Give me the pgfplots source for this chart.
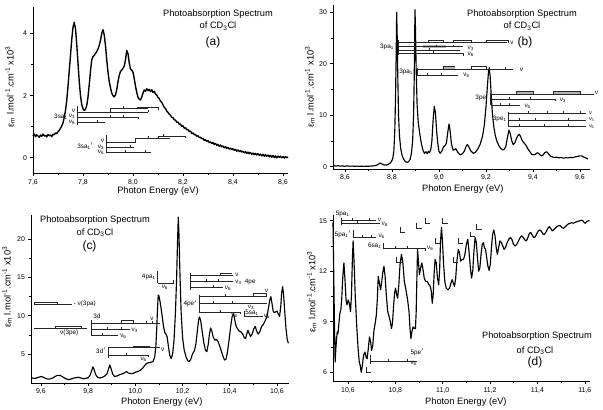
\documentclass[border=0pt]{standalone}
\usepackage{pgfplots}
\usepackage{pgfplotstable}
\pgfplotsset{compat=1.18}
\usepackage{fontspec}
\setmainfont{Liberation Sans}

% ---------------- spectra (photon energy in eV, epsilon in 10^3 l/mol/cm)
\pgfplotstableread{
E eps
7.600 0.70
7.605 0.76
7.610 0.68
7.615 0.74
7.620 0.70
7.625 0.66
7.630 0.73
7.635 0.69
7.640 0.76
7.645 0.70
7.650 0.72
7.655 0.67
7.660 0.75
7.665 0.71
7.670 0.73
7.675 0.68
7.680 0.76
7.685 0.74
7.690 0.80
7.695 0.78
7.700 0.84
7.705 0.88
7.710 0.95
7.715 1.02
7.720 1.12
7.725 1.30
7.730 1.52
7.735 1.85
7.740 2.30
7.745 2.80
7.750 3.30
7.755 3.80
7.760 4.20
7.765 4.36
7.770 4.15
7.775 3.65
7.780 3.05
7.785 2.45
7.790 2.00
7.795 1.70
7.800 1.58
7.805 1.52
7.810 1.56
7.815 1.68
7.820 1.95
7.825 2.35
7.830 2.80
7.835 3.15
7.840 3.25
7.845 3.30
7.850 3.35
7.855 3.42
7.860 3.50
7.865 3.62
7.870 3.78
7.875 4.00
7.880 4.12
7.885 3.95
7.890 3.60
7.895 3.15
7.900 2.75
7.905 2.45
7.910 2.25
7.915 2.08
7.920 2.00
7.925 1.96
7.930 2.02
7.935 2.20
7.940 2.45
7.945 2.65
7.950 2.78
7.955 2.82
7.960 2.88
7.965 2.95
7.970 3.15
7.975 3.45
7.980 3.35
7.985 3.05
7.990 2.85
7.995 2.82
8.000 2.75
8.005 2.55
8.010 2.30
8.015 2.10
8.020 1.95
8.025 1.88
8.030 1.86
8.035 1.95
8.040 2.08
8.045 2.18
8.050 2.14
8.055 2.22
8.060 2.16
8.065 2.20
8.070 2.13
8.075 2.19
8.080 2.10
8.085 2.14
8.090 2.05
8.095 2.02
8.100 1.94
8.105 1.90
8.110 1.82
8.115 1.78
8.120 1.70
8.125 1.62
8.130 1.58
8.135 1.50
8.140 1.46
8.145 1.40
8.150 1.37
8.155 1.30
8.160 1.29
8.165 1.22
8.170 1.21
8.175 1.14
8.180 1.15
8.185 1.08
8.190 1.08
8.195 1.01
8.200 1.03
8.205 0.95
8.210 0.97
8.215 0.90
8.220 0.91
8.225 0.84
8.230 0.86
8.235 0.78
8.240 0.80
8.245 0.74
8.250 0.75
8.255 0.69
8.260 0.71
8.265 0.65
8.270 0.66
8.275 0.61
8.280 0.62
8.285 0.56
8.290 0.58
8.295 0.53
8.300 0.55
8.305 0.49
8.310 0.51
8.315 0.46
8.320 0.49
8.325 0.43
8.330 0.46
8.335 0.40
8.340 0.43
8.345 0.37
8.350 0.41
8.355 0.35
8.360 0.38
8.365 0.32
8.370 0.36
8.375 0.30
8.380 0.33
8.385 0.28
8.390 0.31
8.395 0.26
8.400 0.29
8.405 0.24
8.410 0.27
8.415 0.21
8.420 0.25
8.425 0.20
8.430 0.23
8.435 0.18
8.440 0.21
8.445 0.16
8.450 0.20
8.455 0.14
8.460 0.18
8.465 0.13
8.470 0.17
8.475 0.11
8.480 0.15
8.485 0.10
8.490 0.14
8.495 0.09
8.500 0.13
8.505 0.08
8.510 0.12
8.515 0.06
8.520 0.11
8.525 0.05
8.530 0.10
8.535 0.04
8.540 0.09
8.545 0.03
8.550 0.08
8.555 0.02
8.560 0.07
8.565 0.01
8.570 0.06
8.575 0.00
8.580 0.05
8.585 0.01
8.590 0.05
8.595 0.00
8.600 0.04
8.605 -0.01
8.610 0.04
8.615 0.00
8.620 0.03
}\specA

\pgfplotstableread{
E eps
8.550 0.20
8.560 0.12
8.570 0.18
8.580 0.10
8.590 0.15
8.600 0.08
8.610 0.14
8.620 0.09
8.630 0.12
8.640 0.07
8.650 0.11
8.660 0.06
8.670 0.10
8.680 0.05
8.690 0.09
8.700 0.08
8.710 0.12
8.720 0.15
8.730 0.22
8.740 0.40
8.748 0.70
8.755 0.60
8.765 0.35
8.775 0.30
8.785 0.45
8.795 0.80
8.803 1.5
8.808 3.0
8.812 7.0
8.815 13.0
8.818 22.0
8.820 30.0
8.822 26.0
8.825 17.0
8.828 10.0
8.832 6.0
8.837 3.6
8.843 2.2
8.850 1.4
8.857 1.0
8.863 0.85
8.870 0.95
8.877 1.4
8.883 2.6
8.888 5.0
8.892 10.0
8.895 18.0
8.898 30.5
8.900 27.0
8.903 19.0
8.907 12.0
8.912 8.5
8.918 6.5
8.925 4.5
8.932 3.2
8.938 2.6
8.945 2.9
8.950 2.5
8.955 3.0
8.960 2.7
8.965 3.3
8.970 5.0
8.975 9.0
8.980 11.7
8.985 10.5
8.990 7.0
8.995 4.5
9.000 3.0
9.005 2.6
9.012 3.0
9.020 3.9
9.026 4.1
9.032 4.6
9.037 6.5
9.043 8.3
9.048 6.8
9.053 4.5
9.060 3.2
9.066 3.3
9.072 3.5
9.080 2.8
9.090 2.3
9.100 2.5
9.108 3.0
9.115 3.9
9.121 4.3
9.127 3.9
9.135 3.1
9.146 2.6
9.155 2.8
9.165 3.4
9.175 4.3
9.185 5.8
9.193 8.0
9.200 11.5
9.206 15.5
9.211 18.5
9.214 19.2
9.218 17.5
9.223 13.5
9.228 10.0
9.234 7.6
9.240 6.0
9.247 4.9
9.255 4.1
9.262 3.6
9.270 3.3
9.277 3.3
9.285 4.0
9.292 5.8
9.298 7.1
9.303 6.5
9.310 5.0
9.316 4.3
9.323 4.6
9.330 5.5
9.337 6.1
9.342 6.3
9.348 5.8
9.355 5.0
9.362 4.6
9.370 4.2
9.378 3.5
9.387 2.9
9.395 2.4
9.402 2.3
9.410 2.4
9.418 2.7
9.424 2.6
9.430 2.3
9.437 2.1
9.444 2.3
9.450 2.7
9.458 2.9
9.465 2.6
9.473 2.1
9.482 1.9
9.490 1.8
9.500 1.85
9.510 1.7
9.520 1.8
9.530 1.65
9.540 1.75
9.550 1.7
9.560 1.8
9.570 1.75
9.580 1.9
9.590 2.0
9.600 2.1
9.607 2.1
9.615 1.9
9.625 1.7
9.635 1.5
}\specB

\pgfplotstableread{
E eps
9.558 1.75
9.565 1.85
9.575 1.80
9.585 1.90
9.595 2.00
9.602 2.05
9.610 1.95
9.620 1.80
9.630 1.70
9.640 1.75
9.650 1.85
9.660 2.05
9.670 2.20
9.680 2.20
9.690 2.05
9.700 1.85
9.710 1.70
9.720 1.65
9.730 1.75
9.740 1.85
9.750 1.90
9.760 1.95
9.770 1.85
9.780 1.75
9.790 1.80
9.800 1.90
9.808 2.20
9.815 2.80
9.820 3.30
9.825 3.00
9.832 2.30
9.840 1.95
9.850 1.85
9.860 1.95
9.870 2.10
9.880 2.40
9.886 3.00
9.892 3.55
9.898 3.00
9.905 2.30
9.913 2.05
9.925 2.15
9.935 2.30
9.945 2.40
9.955 2.55
9.963 2.70
9.970 2.50
9.980 2.45
9.991 2.45
10.000 2.60
10.010 2.70
10.020 2.85
10.030 3.10
10.040 3.50
10.047 3.75
10.055 3.85
10.065 3.90
10.075 4.00
10.082 4.60
10.087 6.00
10.091 8.50
10.094 11.0
10.097 12.7
10.100 12.6
10.105 11.8
10.110 10.8
10.115 9.6
10.120 8.5
10.125 7.8
10.130 7.6
10.135 7.2
10.140 6.0
10.146 4.8
10.152 4.4
10.158 5.0
10.164 6.8
10.170 10.5
10.175 15.0
10.179 20.0
10.182 22.9
10.185 20.5
10.189 15.5
10.194 10.5
10.200 7.2
10.207 5.5
10.215 4.6
10.222 4.1
10.228 4.0
10.235 4.3
10.242 5.0
10.250 5.4
10.256 6.2
10.262 7.8
10.267 9.2
10.271 9.85
10.276 9.5
10.282 8.2
10.290 6.5
10.297 5.5
10.303 5.3
10.309 6.3
10.314 7.6
10.319 8.4
10.324 8.0
10.330 7.2
10.337 6.8
10.344 6.9
10.351 6.6
10.360 5.8
10.370 4.8
10.378 4.2
10.384 4.3
10.390 5.2
10.397 6.8
10.404 8.6
10.410 9.9
10.416 10.3
10.421 9.5
10.427 8.6
10.433 8.3
10.440 8.0
10.447 7.9
10.455 7.6
10.462 7.1
10.467 7.0
10.472 7.6
10.477 8.1
10.482 7.7
10.488 7.3
10.495 7.6
10.502 8.3
10.508 8.6
10.514 8.0
10.520 7.6
10.527 7.9
10.535 8.6
10.543 8.9
10.551 9.4
10.558 10.0
10.564 11.0
10.569 12.0
10.574 12.5
10.579 11.6
10.584 10.6
10.588 10.4
10.594 10.5
10.600 10.6
10.606 10.2
10.611 9.9
10.616 11.2
10.620 13.0
10.624 13.8
10.628 12.8
10.633 10.5
10.638 8.4
10.643 7.0
10.648 6.4
}\specC

\pgfplotstableread{
E eps
10.537 14.9
10.540 12.0
10.543 9.0
10.546 6.6
10.549 7.4
10.552 8.0
10.555 8.4
10.558 8.3
10.562 8.9
10.566 9.5
10.570 9.7
10.574 10.4
10.578 11.6
10.583 12.5
10.588 11.4
10.592 10.3
10.596 10.0
10.601 10.3
10.606 10.1
10.611 9.6
10.615 10.6
10.619 12.8
10.622 13.8
10.626 12.5
10.631 10.5
10.637 8.8
10.643 7.4
10.648 6.6
10.652 6.4
10.656 6.0
10.660 6.3
10.666 7.0
10.672 7.2
10.677 6.9
10.681 6.8
10.686 7.4
10.691 8.1
10.696 7.8
10.700 7.3
10.705 7.6
10.710 8.5
10.715 8.9
10.720 9.4
10.724 10.3
10.728 11.7
10.733 11.3
10.738 10.9
10.742 11.3
10.747 11.9
10.752 12.3
10.757 11.7
10.762 10.6
10.768 9.6
10.774 9.3
10.779 9.0
10.784 8.6
10.788 8.9
10.793 10.0
10.797 10.7
10.801 11.0
10.806 10.6
10.810 10.4
10.815 11.2
10.820 12.4
10.826 13.0
10.832 12.5
10.838 11.4
10.845 10.9
10.852 10.3
10.858 9.6
10.862 8.6
10.866 8.0
10.870 8.4
10.875 8.7
10.880 8.6
10.885 8.6
10.888 9.5
10.891 11.5
10.894 13.3
10.898 12.5
10.902 11.8
10.907 12.2
10.912 12.5
10.917 12.1
10.922 11.6
10.928 11.4
10.935 11.4
10.942 11.2
10.948 11.1
10.952 10.8
10.956 10.1
10.960 10.6
10.964 11.9
10.968 12.7
10.973 12.5
10.978 11.6
10.983 11.2
10.987 12.0
10.991 13.8
10.995 14.6
10.999 13.8
11.004 12.4
11.009 11.4
11.015 11.0
11.022 10.9
11.029 11.0
11.035 11.3
11.040 11.5
11.045 11.3
11.050 11.1
11.055 11.6
11.060 12.6
11.066 13.3
11.071 13.1
11.076 12.6
11.082 12.7
11.088 12.7
11.094 13.0
11.100 13.6
11.106 13.9
11.111 13.2
11.117 12.2
11.122 11.6
11.127 12.0
11.132 13.2
11.137 14.0
11.142 13.7
11.147 12.8
11.152 12.0
11.157 12.2
11.162 13.0
11.167 13.6
11.172 13.7
11.176 13.4
11.181 13.3
11.186 12.8
11.191 12.3
11.196 12.05
11.201 12.4
11.206 13.4
11.211 14.2
11.216 14.45
11.221 14.1
11.226 13.4
11.231 13.0
11.236 13.4
11.242 13.8
11.248 13.7
11.254 13.5
11.259 13.3
11.265 13.4
11.272 13.7
11.279 13.9
11.286 14.0
11.292 13.9
11.299 13.6
11.306 13.5
11.313 13.6
11.320 13.8
11.327 14.0
11.334 14.1
11.341 14.0
11.347 13.85
11.353 13.8
11.360 14.0
11.366 14.25
11.372 14.3
11.378 14.15
11.384 14.0
11.391 14.05
11.398 14.25
11.404 14.4
11.411 14.45
11.418 14.35
11.424 14.2
11.430 14.2
11.437 14.35
11.444 14.55
11.450 14.65
11.456 14.55
11.462 14.4
11.468 14.45
11.475 14.55
11.482 14.65
11.489 14.7
11.496 14.72
11.503 14.6
11.510 14.55
11.518 14.65
11.525 14.75
11.532 14.82
11.538 14.85
11.545 14.88
11.552 14.85
11.559 14.9
11.566 14.94
11.573 14.97
11.580 15.0
11.587 15.04
11.593 14.98
11.598 14.88
11.602 14.85
11.608 14.95
11.615 15.0
11.620 14.98
}\specD

\pgfplotsset{
  spec/.style={
    scale only axis, anchor=south west, clip=false,
    axis x line*=bottom, axis y line*=left,
    axis line style={line width=0.7pt},
    tick align=outside,
    major tick length=2.6pt, minor tick length=1.6pt,
    minor x tick num=1, minor y tick num=1,
    every tick/.style={black, line width=0.55pt},
    tick label style={font=\fontsize{7}{8}\selectfont},
    label style={font=\fontsize{9.3}{11}\selectfont},
    /pgf/number format/assume math mode=true,
    xticklabel={\pgfmathprintnumber[fixed,fixed zerofill,precision=1,use comma]{\tick}},
    xlabel={Photon Energy (eV)},
    ylabel={ε\textsubscript{m} l.mol\textsuperscript{-1}.cm\textsuperscript{-1} x10\textsuperscript{3}},
  },
  curve/.style={black, line width=1.15pt, line join=round, no markers},
}
\tikzset{
  lad/.style={black!85, line width=0.45pt},
  lbl/.style={font=\fontsize{6.4}{7}\selectfont, inner sep=0.8pt},
  lbls/.style={font=\fontsize{5.4}{6}\selectfont, inner sep=0pt},
}
% small tick on a progression ladder
\newcommand\tk[2]{\draw[lad] (#1,#2) -- ++(0pt,2.2pt);}
\newcommand\tkd[2]{\draw[lad] (#1,#2) -- ++(0pt,-2.2pt);}
% corner mark used in panel (d)
\newcommand\corner[2]{\draw[lad] (#1,#2) -- ++(0pt,-5pt) -- ++(5pt,0pt);}

\newcommand\titlefont{\fontsize{9.3}{11}\selectfont}

\begin{document}
\begin{tikzpicture}
\useasboundingbox (0bp,0bp) rectangle (603bp,410bp);

% ---------------- (a)
\begin{axis}[spec, at={(33bp,236.7bp)}, width=255bp, height=166.6bp,
  xmin=7.6, xmax=8.62, ymin=-0.5, ymax=4.86,
  xtick={7.6,7.8,8.0,8.2,8.4,8.6}, ytick={0,2,4},
  ylabel style={at={(axis description cs:-0.09,0.52)}, anchor=center},
  xlabel style={at={(axis description cs:0.49,0)}, anchor=center, yshift=-18bp}]
\addplot[curve, line width=1.4pt] table[x=E,y=eps] {\specA};
% 3sa1 ladders
\draw[lad] (7.775,1.05) -- (7.775,1.66);
\draw[lad] (7.775,1.48) -- (8.06,1.48);
\draw[lad] (7.908,1.48) -- (7.908,1.59) -- (8.06,1.59);
\draw[lad] (8.015,1.59) -- (8.015,1.64) -- (8.10,1.64) -- (8.10,1.55);
\tk{7.96}{1.59} \tk{8.06}{1.48}
\draw[lad] (7.775,1.32) -- (8.021,1.32); \tk{7.91}{1.32} \tk{7.96}{1.32} \tkd{8.021}{1.32}
\draw[lad] (7.775,1.13) -- (7.888,1.13); \tk{7.855}{1.13}
\node[lbl,anchor=east] at (7.772,1.50) {ν};
\node[lbl,anchor=east] at (7.772,1.32) {ν\textsubscript{3}};
\node[lbl,anchor=east] at (7.772,1.13) {ν\textsubscript{6}};
\node[lbl,anchor=east] at (7.742,1.31) {3sa\textsubscript{1}};
% 3sa1' ladders
\draw[lad] (7.892,0.15) -- (7.892,0.73);
\draw[lad] (7.892,0.51) -- (8.008,0.51) -- (8.008,0.62) -- (8.149,0.62);
\draw[lad] (8.10,0.62) -- (8.10,0.70) -- (8.208,0.70) -- (8.208,0.62);
\tk{8.06}{0.62} \tk{8.12}{0.70}
\draw[lad] (7.892,0.35) -- (8.004,0.35); \tk{7.99}{0.35}
\draw[lad] (7.892,0.17) -- (8.072,0.17); \tk{7.968}{0.17} \tk{8.05}{0.17}
\node[lbl,anchor=east] at (7.888,0.53) {ν};
\node[lbl,anchor=east] at (7.888,0.35) {ν\textsubscript{3}};
\node[lbl,anchor=east] at (7.888,0.17) {ν\textsubscript{6}};
\node[lbl,anchor=east] at (7.845,0.37) {3sa\textsubscript{1}$'$};
\end{axis}

% ---------------- (b)
\begin{axis}[spec, at={(333bp,241bp)}, width=257bp, height=164bp,
  xmin=8.549, xmax=9.643, ymin=-0.45, ymax=31.4,
  xtick={8.6,8.8,9.0,9.2,9.4,9.6}, ytick={0,10,20,30},
  ylabel style={at={(axis description cs:-0.09,0.5)}, anchor=center},
  xlabel style={at={(axis description cs:0.505,0)}, anchor=center, yshift=-20bp}]
\addplot[curve] table[x=E,y=eps] {\specB};
% 3pa1
\draw[lad] (8.827,21.7) -- (8.827,24.6);
\draw[lad] (8.827,24.1) -- (9.288,24.1);
\draw[lad] (8.955,24.1) -- (8.955,24.6) -- (9.018,24.6) -- (9.018,24.1);
\draw[lad] (9.061,24.1) -- (9.061,24.6) -- (9.139,24.6) -- (9.139,24.1);
\draw[lad] (9.203,24.1) -- (9.203,24.6) -- (9.295,24.6) -- (9.295,24.1);
\fill[gray!60] (8.93,23.05) rectangle (9.03,23.55);
\draw[lad] (8.827,23.3) -- (9.104,23.3); \tk{8.99}{23.3} \tk{9.06}{23.3}
\draw[lad] (8.827,22.7) -- (9.09,22.7); \tk{8.96}{22.7}
\draw[lad] (8.827,22.0) -- (9.104,22.0); \tk{8.975}{22.0} \tkd{9.104}{22.0}
\node[lbl,anchor=west] at (9.300,24.1) {ν};
\node[lbl,anchor=west] at (9.118,23.0) {ν\textsubscript{3}};
\node[lbl,anchor=west] at (9.118,21.9) {ν\textsubscript{6}};
\node[lbl,anchor=east] at (8.812,23.3) {3pa\textsubscript{1}};
% 3pa1'
\draw[lad] (8.908,17.6) -- (8.908,19.2);
\draw[lad] (8.908,18.9) -- (9.316,18.9); \tk{9.28}{18.9}
\fill[gray!60] (9.018,18.9) rectangle (9.068,19.6);
\draw[lad] (9.018,18.9) -- (9.018,19.6) -- (9.068,19.6);
\draw[lad] (9.139,18.9) -- (9.139,19.6) -- (9.203,19.6) -- (9.203,18.9);
\draw[lad] (8.908,17.8) -- (9.082,17.8); \tk{8.95}{17.8} \tk{9.01}{17.8}
\node[lbl,anchor=west] at (9.340,18.9) {ν};
\node[lbl,anchor=west] at (9.100,17.7) {ν\textsubscript{6}};
\node[lbl,anchor=east] at (8.905,18.4) {3pa\textsubscript{1}$'$};
% 3pe
\draw[lad] (9.22,11.9) -- (9.22,14.4);
\draw[lad] (9.22,14.1) -- (9.66,14.1);
\fill[gray!60] (9.33,14.1) rectangle (9.40,14.7);
\draw[lad] (9.33,14.1) -- (9.33,14.7) -- (9.40,14.7) -- (9.40,14.1);
\fill[gray!60] (9.487,14.1) rectangle (9.60,14.7);
\draw[lad] (9.487,14.1) -- (9.487,14.7) -- (9.60,14.7) -- (9.60,14.1);
\draw[lad] (9.22,13.1) -- (9.494,13.1); \tk{9.30}{13.1} \tk{9.39}{13.1} \tkd{9.494}{13.1}
\draw[lad] (9.22,12.0) -- (9.345,12.0); \tk{9.26}{12.0} \tk{9.30}{12.0}
\node[lbl,anchor=west] at (9.660,14.3) {ν};
\node[lbl,anchor=west] at (9.51,12.9) {ν\textsubscript{3}};
\node[lbl,anchor=west] at (9.36,11.8) {ν\textsubscript{6}};
\node[lbl,anchor=east] at (9.205,13.4) {3pe};
% 3pe1
\draw[lad] (9.295,7.8) -- (9.295,10.6);
\draw[lad] (9.295,10.3) -- (9.628,10.3); \tk{9.38}{10.3} \tk{9.46}{10.3} \tk{9.53}{10.3} \tk{9.60}{10.3}
\draw[lad] (9.295,9.1) -- (9.628,9.1); \tk{9.34}{9.1} \tk{9.41}{9.1} \tk{9.55}{9.1}
\draw[lad] (9.295,7.9) -- (9.628,7.9); \tk{9.34}{7.9} \tk{9.45}{7.9} \tk{9.55}{7.9}
\node[lbls,anchor=west] at (9.638,10.35) {ν};
\node[lbls,anchor=west] at (9.638,9.05) {ν\textsubscript{3}};
\node[lbls,anchor=west] at (9.638,7.75) {ν\textsubscript{6}};
\node[lbl,anchor=east] at (9.292,9.3) {3pe\textsubscript{1}};
\end{axis}

% ---------------- (c)
\begin{axis}[spec, at={(31bp,27bp)}, width=258bp, height=168bp,
  xmin=9.558, xmax=10.651, ymin=1.2, ymax=23.18,
  xtick={9.6,9.8,10.0,10.2,10.4,10.6}, ytick={5,10,15,20},
  ylabel style={at={(axis description cs:-0.093,0.57)}, anchor=center},
  xlabel style={at={(axis description cs:0.507,0)}, anchor=center, yshift=-19bp}]
\addplot[curve] table[x=E,y=eps] {\specC};
% nu(3pa), nu(3pe)
\draw[lad] (9.572,11.5) -- (9.73,11.5);
\draw[lad] (9.572,11.5) -- (9.572,11.75) -- (9.667,11.75) -- (9.667,11.5);
\node[lbl,anchor=west] at (9.735,11.5) {- ν(3pa)};
\draw[lad] (9.572,8.36) -- (9.794,8.36);
\draw[lad] (9.66,8.36) -- (9.66,8.6) -- (9.77,8.6) -- (9.77,8.36);
\node[lbl] at (9.72,7.75) {ν(3pe)};
% 3d
\draw[lad] (9.815,7.35) -- (9.815,9.5);
\draw[lad] (9.815,9.06) -- (10.104,9.06);
\draw[lad] (9.942,9.06) -- (9.942,9.35) -- (9.991,9.35) -- (9.991,9.06);
\tk{10.047}{9.06} \tk{10.07}{9.06}
\draw[lad] (9.815,8.19) -- (9.977,8.19); \tk{9.88}{8.19} \tk{9.94}{8.19}
\draw[lad] (9.815,7.40) -- (9.928,7.40); \tk{9.86}{7.40}
\node[lbl,anchor=south west] at (9.818,9.55) {3d};
\node[lbl,anchor=south] at (10.07,9.3) {ν};
\node[lbl,anchor=west] at (9.98,8.05) {ν\textsubscript{3}};
\node[lbl,anchor=west] at (9.932,7.25) {ν\textsubscript{6}};
% 3d'
\draw[lad] (9.885,4.44) -- (9.885,5.96);
\draw[lad] (9.885,5.83) -- (10.104,5.83);
\draw[lad] (9.99,5.83) -- (9.99,6.05) -- (10.06,6.05) -- (10.06,5.83);
\draw[lad] (9.885,4.87) -- (10.055,4.87); \tk{9.96}{4.87} \tkd{10.055}{4.87}
\node[lbl,anchor=east] at (9.88,5.4) {3d$'$};
\node[lbl,anchor=west] at (10.105,5.55) {ν};
\node[lbl] at (10.035,4.3) {ν\textsubscript{6}};
% 4pa1
\draw[lad] (10.094,14.25) -- (10.094,15.8);
\draw[lad] (10.094,14.25) -- (10.161,14.25) -- (10.161,14.7);
\node[lbl,anchor=east] at (10.09,15.1) {4pa\textsubscript{1}};
\node[lbl] at (10.125,13.7) {ν\textsubscript{6}};
% 4pe
\draw[lad] (10.234,13.4) -- (10.234,15.6);
\draw[lad] (10.234,15.27) -- (10.415,15.27);
\draw[lad] (10.36,15.27) -- (10.36,15.5) -- (10.41,15.5);
\draw[lad] (10.234,14.46) -- (10.415,14.46); \tk{10.30}{14.46} \tk{10.35}{14.46}
\draw[lad] (10.234,13.72) -- (10.37,13.72); \tk{10.33}{13.72}
\node[lbl,anchor=west] at (10.42,15.35) {ν};
\node[lbl,anchor=west] at (10.42,14.4) {ν\textsubscript{3}};
\node[lbl,anchor=west] at (10.46,14.4) {4pe};
\node[lbl,anchor=west] at (10.375,13.6) {ν\textsubscript{6}};
% 4pe'
\draw[lad] (10.27,10.5) -- (10.27,12.7);
\draw[lad] (10.27,12.6) -- (10.556,12.6);
\draw[lad] (10.50,12.6) -- (10.50,12.9) -- (10.556,12.9) -- (10.556,12.6);
\tk{10.38}{12.6}
\draw[lad] (10.27,11.6) -- (10.556,11.6); \tk{10.33}{11.6} \tk{10.41}{11.6}
\draw[lad] (10.27,10.5) -- (10.443,10.5); \tk{10.36}{10.5} \tkd{10.443}{10.5}
\node[lbl,anchor=south] at (10.556,12.95) {ν};
\node[lbl] at (10.49,11.15) {ν\textsubscript{3}};
\node[lbl] at (10.42,10.0) {ν\textsubscript{6}};
\node[lbl,anchor=east] at (10.265,11.54) {4pe$'$};
% 5sa1
\draw[lad] (10.462,10.6) -- (10.462,9.9) -- (10.54,9.9);
\node[lbl,anchor=west] at (10.462,10.35) {5sa\textsubscript{1}};
\node[lbl,anchor=west] at (10.54,9.9) {ν\textsubscript{6}};
\end{axis}

% ---------------- (d)
\begin{axis}[spec, at={(333bp,28.3bp)}, width=257bp, height=166.7bp,
  xmin=10.537, xmax=11.622, ymin=5.44, ymax=15.34,
  xtick={10.6,10.8,11.0,11.2,11.4,11.6}, ytick={6,9,12,15},
  ylabel style={at={(axis description cs:-0.083,0.54)}, anchor=center},
  xlabel style={at={(axis description cs:0.517,0)}, anchor=center, yshift=-20bp}]
\addplot[curve] table[x=E,y=eps] {\specD};
% 5pa1
\draw[lad] (10.573,14.74) -- (10.573,15.14);
\draw[lad] (10.573,15.04) -- (10.72,15.04); \tk{10.62}{15.04} \tk{10.69}{15.04}
\draw[lad] (10.573,14.84) -- (10.735,14.84); \tk{10.64}{14.84}
\node[lbl,anchor=south west] at (10.545,15.15) {5pa\textsubscript{1}};
\node[lbl,anchor=west] at (10.722,15.08) {ν};
\node[lbl,anchor=west] at (10.738,14.8) {ν\textsubscript{6}};
% 5pa1'
\draw[lad] (10.622,13.95) -- (10.622,14.45);
\draw[lad] (10.622,14.05) -- (10.72,14.05); \tk{10.66}{14.05} \tk{10.70}{14.05}
\node[lbl,anchor=east] at (10.618,14.2) {5pa\textsubscript{1}$'$};
\node[lbl,anchor=west] at (10.725,14.05) {ν\textsubscript{6}};
% 6sa1
\draw[lad] (10.749,13.36) -- (10.749,13.7);
\draw[lad] (10.749,13.36) -- (10.925,13.36); \tk{10.80}{13.36} \tk{10.85}{13.36} \tkd{10.925}{13.36}
\node[lbl,anchor=east] at (10.745,13.5) {6sa\textsubscript{1}};
\node[lbl,anchor=west] at (10.93,13.36) {ν\textsubscript{6}};
% 5pe'
\draw[lad] (10.693,6.5) -- (10.693,7.05);
\draw[lad] (10.693,6.67) -- (10.89,6.67); \tk{10.77}{6.67} \tk{10.85}{6.67}
\node[lbl,anchor=west] at (10.86,7.2) {5pe$'$};
\node[lbl,anchor=west] at (10.86,6.55) {ν\textsubscript{6}};
% band-head marks
\corner{10.82}{14.64} \corner{10.89}{14.84} \corner{10.925}{15.17}
\corner{11.0}{15.14} \corner{10.97}{13.95} \corner{10.806}{12.86}
\corner{11.066}{13.95} \corner{11.115}{14.35} \corner{11.143}{14.78}
\corner{11.043}{12.86} \corner{10.676}{6.3}
\end{axis}

% ---------------- panel titles
\node[font=\titlefont] at (218bp,396bp) {Photoabsorption Spectrum};
\node[font=\titlefont] at (218bp,384bp) {of CD\textsubscript{3}Cl};
\node[font=\fontsize{12}{14}\selectfont] at (213bp,367.5bp) {(a)};

\node[font=\titlefont] at (522bp,396bp) {Photoabsorption Spectrum};
\node[font=\titlefont] at (522bp,384bp) {of CD\textsubscript{3}Cl};
\node[font=\fontsize{12}{14}\selectfont] at (525bp,368bp) {(b)};

\node[font=\titlefont] at (95bp,190bp) {Photoabsorption Spectrum};
\node[font=\titlefont] at (95bp,177.5bp) {of CD\textsubscript{3}Cl};
\node[font=\fontsize{12}{14}\selectfont] at (89.5bp,164bp) {(c)};

\node[font=\titlefont] at (537bp,73.5bp) {Photoabsorption Spectrum};
\node[font=\titlefont] at (535bp,59.5bp) {of CD\textsubscript{3}Cl};
\node[font=\fontsize{12}{14}\selectfont] at (535bp,48bp) {(d)};
\end{tikzpicture}
\end{document}
